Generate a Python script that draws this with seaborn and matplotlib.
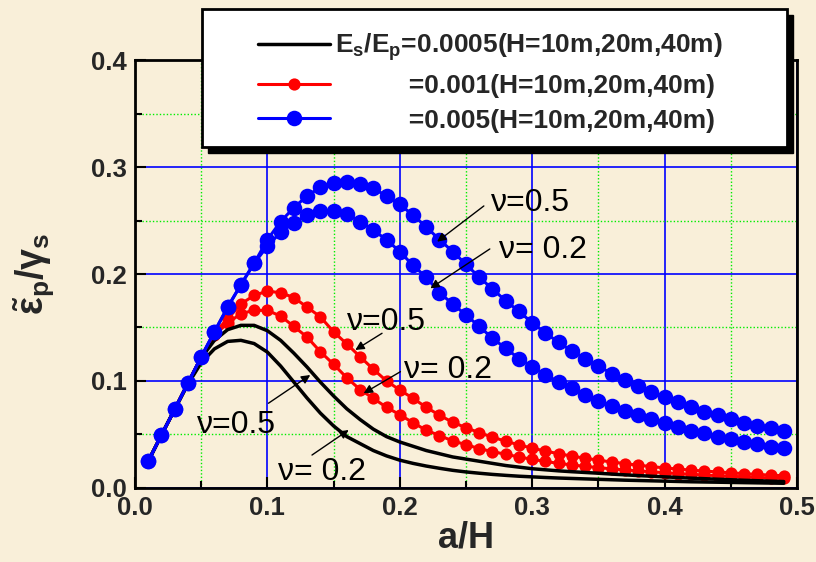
import matplotlib
matplotlib.use("Agg")
import matplotlib.pyplot as plt
from matplotlib.lines import Line2D
from matplotlib.patches import Rectangle
from matplotlib.ticker import MultipleLocator
import seaborn as sns

# ---------------------------------------------------------------- data
a_over_h = [0.01, 0.02, 0.03, 0.04, 0.05, 0.06, 0.07, 0.08, 0.09, 0.10,
            0.11, 0.12, 0.13, 0.14, 0.15, 0.16, 0.17, 0.18, 0.19, 0.20,
            0.21, 0.22, 0.23, 0.24, 0.25, 0.26, 0.27, 0.28, 0.29, 0.30,
            0.31, 0.32, 0.33, 0.34, 0.35, 0.36, 0.37, 0.38, 0.39, 0.40,
            0.41, 0.42, 0.43, 0.44, 0.45, 0.46, 0.47, 0.48, 0.49]

# Es/Ep = 0.0005
black_nu05 = [0.025, 0.0495, 0.0735, 0.098, 0.1215, 0.138, 0.148, 0.152, 0.152, 0.147,
              0.138, 0.126, 0.113, 0.099, 0.086, 0.074, 0.064, 0.055, 0.048, 0.043,
              0.039, 0.035, 0.032, 0.029, 0.027, 0.025, 0.023, 0.021, 0.0195, 0.018,
              0.017, 0.016, 0.0152, 0.0145, 0.0138, 0.013, 0.0123, 0.0116, 0.011, 0.0104,
              0.0098, 0.0092, 0.0087, 0.0082, 0.0077, 0.0072, 0.0068, 0.0064, 0.006]
black_nu02 = [0.025, 0.0495, 0.0735, 0.097, 0.117, 0.130, 0.137, 0.138, 0.135, 0.127,
              0.114, 0.099, 0.084, 0.070, 0.058, 0.048, 0.0415, 0.035, 0.030, 0.026,
              0.023, 0.0205, 0.0184, 0.0165, 0.015, 0.0138, 0.0127, 0.0118, 0.011, 0.0104,
              0.0098, 0.0093, 0.0089, 0.0085, 0.0081, 0.0077, 0.0073, 0.007, 0.0067, 0.0064,
              0.0061, 0.0058, 0.0056, 0.0054, 0.0052, 0.005, 0.0048, 0.0046, 0.0044]

# Es/Ep = 0.001
red_nu05 = [0.025, 0.0495, 0.0735, 0.098, 0.1225, 0.145, 0.158, 0.172, 0.180, 0.184,
            0.1825, 0.178, 0.169, 0.160, 0.146, 0.1346, 0.1227, 0.111, 0.100, 0.0916,
            0.0838, 0.0754, 0.068, 0.0614, 0.0564, 0.0517, 0.0475, 0.0437, 0.0403, 0.0372,
            0.0345, 0.032, 0.0298, 0.0278, 0.026, 0.0243, 0.0228, 0.0213, 0.020, 0.0188,
            0.0177, 0.0167, 0.0158, 0.015, 0.0142, 0.0134, 0.0127, 0.012, 0.0114]
red_nu02 = [0.025, 0.0495, 0.0735, 0.098, 0.1225, 0.143, 0.154, 0.163, 0.166, 0.166,
            0.1607, 0.151, 0.141, 0.1274, 0.1156, 0.103, 0.092, 0.0838, 0.0754, 0.0685,
            0.061, 0.054, 0.049, 0.044, 0.0405, 0.0368, 0.034, 0.0315, 0.029, 0.0268,
            0.0248, 0.023, 0.0215, 0.0202, 0.019, 0.0179, 0.0169, 0.016, 0.0151, 0.0143,
            0.0135, 0.0128, 0.0121, 0.0115, 0.0109, 0.0104, 0.0099, 0.0094, 0.009]

# Es/Ep = 0.005
blue_nu05 = [0.025, 0.0495, 0.0735, 0.098, 0.1225, 0.146, 0.169, 0.190, 0.210, 0.232,
             0.249, 0.262, 0.273, 0.281, 0.285, 0.286, 0.284, 0.280, 0.273, 0.265,
             0.255, 0.244, 0.232, 0.221, 0.209, 0.197, 0.186, 0.175, 0.165, 0.1545,
             0.145, 0.136, 0.128, 0.121, 0.114, 0.107, 0.101, 0.0956, 0.090, 0.0847,
             0.080, 0.076, 0.0713, 0.068, 0.0645, 0.061, 0.058, 0.0558, 0.053]
blue_nu02 = [0.025, 0.0495, 0.0735, 0.098, 0.1225, 0.146, 0.169, 0.190, 0.210, 0.226,
             0.239, 0.248, 0.255, 0.259, 0.259, 0.256, 0.249, 0.241, 0.232, 0.221,
             0.208, 0.197, 0.1825, 0.172, 0.1617, 0.151, 0.140, 0.1305, 0.121, 0.1134,
             0.1056, 0.0994, 0.093, 0.087, 0.0816, 0.077, 0.0723, 0.068, 0.0645, 0.0604,
             0.0567, 0.0536, 0.051, 0.048, 0.0455, 0.043, 0.0408, 0.0386, 0.037]

legend_labels = [r"E$_s$/E$_p$=0.0005(H=10m,20m,40m)",
                 "          =0.001(H=10m,20m,40m)",
                 "          =0.005(H=10m,20m,40m)"]

# Poisson's ratio callouts: text, text anchor (left, centre), arrow tail, arrow head
nu_notes = [
    ("\u03bd=0.5",  (0.2685, 0.266),  (0.2635, 0.2636), (0.2282, 0.2302)),
    ("\u03bd= 0.2", (0.2748, 0.2224), (0.268, 0.2234),  (0.2231, 0.1866)),
    ("\u03bd=0.5",  (0.160, 0.1554),  (0.1866, 0.1446), (0.1664, 0.129)),
    ("\u03bd= 0.2", (0.203, 0.1103),  (0.2005, 0.1087), (0.1727, 0.0885)),
    ("\u03bd=0.5",  (0.0467, 0.0589), (0.1008, 0.0792), (0.1324, 0.1056)),
    ("\u03bd= 0.2", (0.1084, 0.0152), (0.1337, 0.0308), (0.1614, 0.0542)),
]

# ---------------------------------------------------------------- style
sns.set_theme(style="ticks")
plt.rcParams["font.family"] = ["Liberation Sans", "DejaVu Sans"]
plt.rcParams["font.weight"] = "bold"
plt.rcParams["mathtext.fontset"] = "custom"
plt.rcParams["mathtext.rm"] = "Liberation Sans:bold"
plt.rcParams["mathtext.it"] = "Liberation Sans:bold"
plt.rcParams["mathtext.bf"] = "Liberation Sans:bold"

bg = "#F9EFD9"
fig = plt.figure(figsize=(8.16, 5.62), dpi=100, facecolor=bg)
ax = fig.add_axes([0.1654, 0.1317, 0.8113, 0.7615])
ax.set_facecolor(bg)

# ---------------------------------------------------------------- curves
line_kw = dict(errorbar=None, legend=False, ax=ax)
sns.lineplot(x=a_over_h, y=red_nu05, color="#FF0000", linewidth=2.2, marker="o",
             markersize=8.8, markeredgewidth=0, zorder=3, **line_kw)
sns.lineplot(x=a_over_h, y=red_nu02, color="#FF0000", linewidth=2.2, marker="o",
             markersize=8.8, markeredgewidth=0, zorder=3, **line_kw)
sns.lineplot(x=a_over_h, y=black_nu05, color="black", linewidth=2.5, zorder=3.5, **line_kw)
sns.lineplot(x=a_over_h, y=black_nu02, color="black", linewidth=2.5, zorder=3.5, **line_kw)
sns.lineplot(x=a_over_h, y=blue_nu05, color="#0000FF", linewidth=2.2, marker="o",
             markersize=11.2, markeredgewidth=0, zorder=4, **line_kw)
sns.lineplot(x=a_over_h, y=blue_nu02, color="#0000FF", linewidth=2.2, marker="o",
             markersize=11.2, markeredgewidth=0, zorder=4, **line_kw)

# ---------------------------------------------------------------- axes
ax.set_xlim(0, 0.5)
ax.set_ylim(0, 0.4)
ax.xaxis.set_major_locator(MultipleLocator(0.1))
ax.xaxis.set_minor_locator(MultipleLocator(0.05))
ax.yaxis.set_major_locator(MultipleLocator(0.1))
ax.yaxis.set_minor_locator(MultipleLocator(0.05))
ax.set_axisbelow(True)
ax.grid(which="major", color="#0000FF", linewidth=1.2, linestyle="-")
ax.grid(which="minor", color="#00EE00", linewidth=1.0, linestyle=(0, (1, 1.5)))
ax.tick_params(which="both", direction="in", top=False, right=False,
               color="black", width=1.5, labelsize=18.5, pad=6)
ax.tick_params(which="major", length=8)
ax.tick_params(which="minor", length=5)
for lbl in ax.get_xticklabels() + ax.get_yticklabels():
    lbl.set_fontweight("bold")
for sp in ax.spines.values():
    sp.set_color("black")
    sp.set_linewidth(2)

ax.set_xlabel("a/H", fontsize=26, fontweight="bold", labelpad=0)
ax.set_ylabel(r"$\tilde{\varepsilon}_p/\gamma_s$", fontsize=27, labelpad=24)

# ---------------------------------------------------------------- callouts
for text, (tx, ty), tail, head in nu_notes:
    ax.text(tx, ty, text, fontsize=23, fontweight="normal", ha="left",
            va="center", color="black", zorder=8)
    ax.annotate("", xy=head, xytext=tail,
                arrowprops=dict(arrowstyle="-|>", color="black", lw=1.0,
                                mutation_scale=13, shrinkA=0, shrinkB=0),
                zorder=8)

# ---------------------------------------------------------------- legend
box_x0, box_y0, box_x1, box_y1 = 0.101, 0.797, 0.985, 1.119
dx, dy = 6 / 662, 6 / 428
shadow = Rectangle((box_x0 + dx, box_y0 - dy), box_x1 - box_x0, box_y1 - box_y0,
                   transform=ax.transAxes, facecolor="black", edgecolor="black",
                   clip_on=False, zorder=9)
frame = Rectangle((box_x0, box_y0), box_x1 - box_x0, box_y1 - box_y0,
                  transform=ax.transAxes, facecolor="white", edgecolor="black",
                  linewidth=2, clip_on=False, zorder=9.5)
ax.add_patch(shadow)
ax.add_patch(frame)

handles = [Line2D([], [], color="black", linewidth=2.5),
           Line2D([], [], color="#FF0000", linewidth=2.2, marker="o",
                  markersize=8.8, markeredgewidth=0),
           Line2D([], [], color="#0000FF", linewidth=2.2, marker="o",
                  markersize=11.2, markeredgewidth=0)]
leg = ax.legend(handles, legend_labels, loc="upper left",
                bbox_to_anchor=(0.1858, 1.066), frameon=False,
                prop=dict(size=19, weight="bold"), handlelength=2.72,
                handletextpad=0.2, labelspacing=0.4, borderpad=0,
                borderaxespad=0, numpoints=1)
leg.set_zorder(10)

fig.savefig("out.png", dpi=100, facecolor=bg)
